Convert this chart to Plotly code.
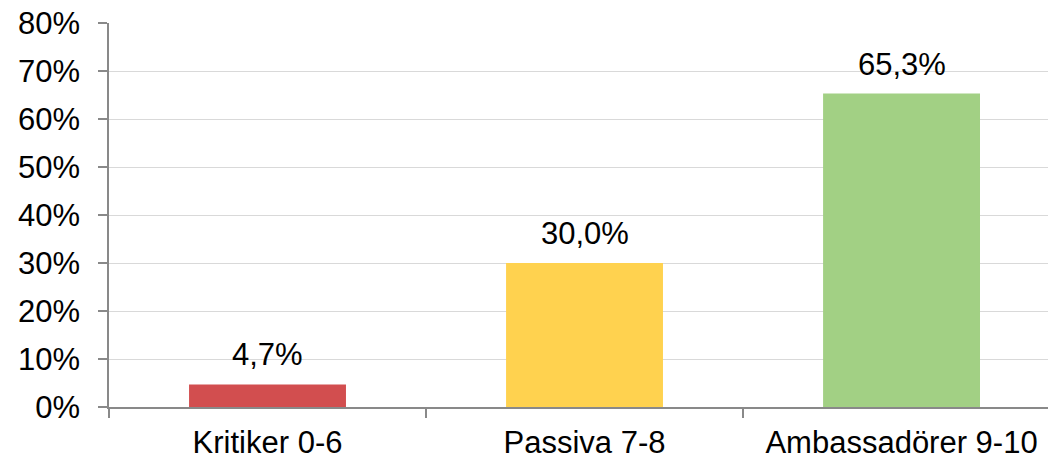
import plotly.graph_objects as go

categories = ["Kritiker 0-6", "Passiva 7-8", "Ambassadörer 9-10"]
shares = [0.047, 0.300, 0.653]
labels = ["4,7%", "30,0%", "65,3%"]
bar_colors = ["#D24E4F", "#FFD24F", "#A2D084"]

y_ticks = [0, 0.1, 0.2, 0.3, 0.4, 0.5, 0.6, 0.7, 0.8]
y_tick_text = ["0%", "10%", "20%", "30%", "40%", "50%", "60%", "70%", "80%"]

FONT = "Liberation Sans, Arial, sans-serif"

fig = go.Figure()
fig.add_trace(go.Bar(
    x=categories,
    y=shares,
    width=0.495,
    marker=dict(color=bar_colors, line=dict(width=0)),
    hoverinfo="skip",
))

# value labels above bars
for cat, val, txt in zip(categories, shares, labels):
    fig.add_annotation(
        x=cat, y=val, text=txt, showarrow=False,
        yanchor="bottom", yshift=10,
        font=dict(family=FONT, size=31, color="#000000"),
    )

fig.update_layout(
    width=1048,
    height=460,
    margin=dict(l=109, r=0, t=23, b=53),
    paper_bgcolor="white",
    plot_bgcolor="white",
    showlegend=False,
    font=dict(family=FONT, size=31, color="#000000"),
)

# the right end of the last category is cut off, as in the original
fig.update_xaxes(
    type="category",
    range=[-0.5, 2.462],
    showline=True, linecolor="#898989", linewidth=1.5,
    ticks="outside", tickson="boundaries", ticklen=9, tickcolor="#898989", tickwidth=1.5,
    showgrid=False,
    ticklabelstandoff=7,
    ticklabeloverflow="allow",
    tickfont=dict(family=FONT, size=31, color="#000000"),
    automargin=False,
)

fig.update_yaxes(
    range=[0, 0.8],
    tickvals=y_ticks, ticktext=y_tick_text,
    showline=True, linecolor="#898989", linewidth=1.5,
    ticks="outside", ticklen=9, tickcolor="#898989", tickwidth=1.5,
    showgrid=True, gridcolor="#D9D9D9", gridwidth=1,
    zeroline=False,
    ticklabelstandoff=12,
    ticklabeloverflow="allow",
    tickfont=dict(family=FONT, size=31, color="#000000"),
    automargin=False,
)

# drop the default body margin so the figure sits at the page corner
fig.write_html(
    "out.html",
    config={"displayModeBar": False},
    post_script="document.body.style.margin = '0';",
)
